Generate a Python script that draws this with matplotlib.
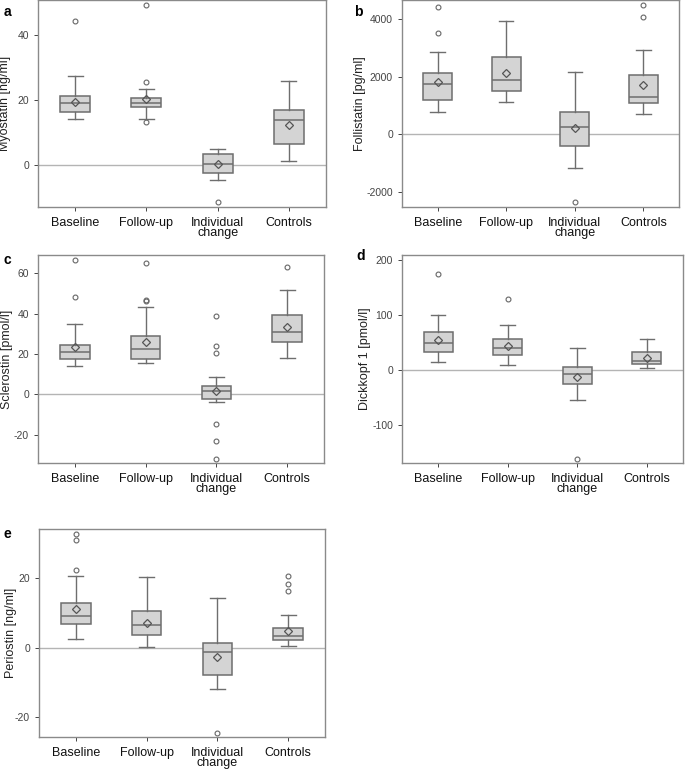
import matplotlib
matplotlib.use('Agg')
import matplotlib.pyplot as plt

plt.rcParams['font.family'] = ['Liberation Sans', 'DejaVu Sans']
plt.rcParams['axes.unicode_minus'] = False

groups = ['Baseline', 'Follow-up', 'Individual\nchange', 'Controls']

# per panel: whislo, q1, med, q3, whishi, mean, fliers (one entry per group)
myo_lo = [14.0, 14.2, -4.6, 1.1]
myo_q1 = [16.2, 17.8, -2.5, 6.4]
myo_med = [19.0, 19.1, 0.3, 13.7]
myo_q3 = [21.1, 20.7, 3.4, 16.9]
myo_hi = [27.3, 23.4, 4.9, 25.8]
myo_mean = [19.4, 20.2, 0.1, 12.4]
myo_fl = [[44.3], [25.5, 13.1, 49.2], [-11.5], []]

fol_lo = [765, 1110, -1170, 715]
fol_q1 = [1210, 1490, -400, 1085]
fol_med = [1745, 1875, 250, 1285]
fol_q3 = [2120, 2665, 770, 2075]
fol_hi = [2870, 3920, 2160, 2935]
fol_mean = [1820, 2130, 225, 1700]
fol_fl = [[3525, 4425], [], [-2340], [4080, 4495]]

scl_lo = [14.1, 15.4, -4.0, 18.2]
scl_q1 = [17.4, 17.7, -2.5, 25.7]
scl_med = [21.0, 22.4, 1.5, 30.8]
scl_q3 = [24.5, 28.7, 4.3, 39.1]
scl_hi = [34.6, 43.1, 8.8, 51.7]
scl_mean = [23.2, 26.0, 1.8, 33.2]
scl_fl = [[48.2, 66.4], [46.2, 46.5, 64.8], [38.9, 24.0, 20.4, -14.7, -23.0, -32.0], [63.3]]

dkk_lo = [13.4, 7.9, -54.3, 3.7]
dkk_q1 = [32.9, 26.2, -26.8, 9.8]
dkk_med = [48.8, 39.0, -7.9, 16.5]
dkk_q3 = [68.3, 56.7, 4.3, 31.7]
dkk_hi = [100.0, 82.3, 39.6, 55.5]
dkk_mean = [54.3, 43.9, -14.0, 21.3]
dkk_fl = [[173.8], [128.7], [-162.8], []]

per_lo = [2.5, 0.3, -11.8, 0.6]
per_q1 = [6.8, 3.5, -7.7, 2.3]
per_med = [9.2, 6.6, -1.2, 3.4]
per_q3 = [12.8, 10.4, 1.3, 5.7]
per_hi = [20.6, 20.3, 14.3, 9.5]
per_mean = [11.1, 7.2, -2.8, 4.9]
per_fl = [[22.3, 30.9, 32.5], [], [-24.4], [16.3, 18.3, 20.4]]

panels = [
    ('a', 'Myostatin [ng/ml]', myo_lo, myo_q1, myo_med, myo_q3, myo_hi, myo_mean, myo_fl,
     (-13, 50.8), [0, 20, 40]),
    ('b', 'Follistatin [pg/ml]', fol_lo, fol_q1, fol_med, fol_q3, fol_hi, fol_mean, fol_fl,
     (-2510, 4655), [-2000, 0, 2000, 4000]),
    ('c', 'Sclerostin [pmol/l]', scl_lo, scl_q1, scl_med, scl_q3, scl_hi, scl_mean, scl_fl,
     (-34, 69), [-20, 0, 20, 40, 60]),
    ('d', 'Dickkopf 1 [pmol/l]', dkk_lo, dkk_q1, dkk_med, dkk_q3, dkk_hi, dkk_mean, dkk_fl,
     (-170, 209), [-100, 0, 100, 200]),
    ('e', 'Periostin [ng/ml]', per_lo, per_q1, per_med, per_q3, per_hi, per_mean, per_fl,
     (-25.6, 34), [-20, 0, 20]),
]

# axes rectangles in pixels: left, top, right, bottom
W, H = 685, 769
rects = [(38, 0, 326, 207), (402, 0, 679, 207), (38, 255, 324, 463),
         (402, 255, 683, 463), (39, 529, 325, 737)]
label_pos = [(4, 12), (354, 12), (4, 260), (356, 256), (4, 534)]
ylab_right = [11, 366, 13, 371, 17]

edge = '#6e6e6e'
fig = plt.figure(figsize=(W / 100, H / 100), dpi=100)

for (letter, ylab, lo, q1, med, q3, hi, mean, fl, ylim, yt), r, lp, yr in zip(panels, rects, label_pos, ylab_right):
    ax = fig.add_axes([r[0] / W, 1 - r[3] / H, (r[2] - r[0]) / W, (r[3] - r[1]) / H])
    stats = []
    for i in range(4):
        stats.append(dict(whislo=lo[i], q1=q1[i], med=med[i], q3=q3[i], whishi=hi[i],
                          mean=mean[i], fliers=fl[i]))
    ax.axhline(0, color='#b4b4b4', lw=1, zorder=0)
    ax.bxp(stats, positions=[1, 2, 3, 4], widths=0.42, showmeans=True, patch_artist=True,
           boxprops=dict(facecolor='#d4d4d4', edgecolor=edge, lw=1.1),
           medianprops=dict(color=edge, lw=1.1),
           whiskerprops=dict(color=edge, lw=1),
           capprops=dict(color=edge, lw=1),
           meanprops=dict(marker='D', markersize=4.5, markerfacecolor='none',
                          markeredgecolor='#555555', markeredgewidth=0.9),
           flierprops=dict(marker='o', markersize=3.5, markerfacecolor='none',
                           markeredgecolor='#666666', markeredgewidth=0.8))
    ax.set_xlim(0.48, 4.52)
    ax.set_ylim(*ylim)
    ax.set_yticks(yt)
    ax.set_xticks([1, 2, 3, 4])
    ax.set_xticklabels(groups, fontsize=9, linespacing=0.85)
    ax.tick_params(axis='y', labelsize=7.5, colors='#444444', length=3, width=0.7)
    ax.tick_params(axis='x', colors='#444444', length=3, width=0.7, pad=4)
    for lab in ax.get_xticklabels():
        lab.set_color('#111111')
    ax.set_ylabel(ylab, fontsize=9, color='#222222')
    ax.yaxis.set_label_coords((yr - r[0]) / (r[2] - r[0]), 0.5)
    for s in ax.spines.values():
        s.set_color('#8a8a8a')
        s.set_linewidth(1)
    fig.text(lp[0] / W, 1 - lp[1] / H, letter, fontsize=10, fontweight='bold',
             va='center', ha='left')

fig.savefig('out.png', dpi=100)
